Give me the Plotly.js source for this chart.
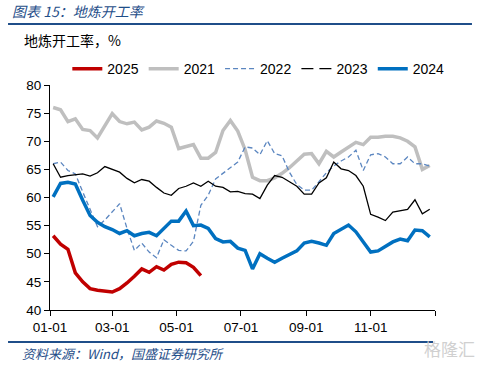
<!DOCTYPE html>
<html>
<head>
<meta charset="utf-8">
<script src="https://cdn.plot.ly/plotly-3.0.1.min.js"></script>
<style>html,body{margin:0;padding:0;background:#fff;}#chart{width:480px;height:366px;}</style>
</head>
<body>
<div id="chart"></div>
<script>
// Weekly observation dates mapped onto a common (non-leap) year
const weeks = [
  "2021-01-04","2021-01-11","2021-01-18","2021-01-25","2021-02-01","2021-02-08","2021-02-15","2021-02-22",
  "2021-03-01","2021-03-08","2021-03-15","2021-03-22","2021-03-29","2021-04-05","2021-04-12","2021-04-19",
  "2021-04-26","2021-05-03","2021-05-10","2021-05-17","2021-05-24","2021-05-31","2021-06-07","2021-06-14",
  "2021-06-21","2021-06-28","2021-07-05","2021-07-12","2021-07-19","2021-07-26","2021-08-02","2021-08-09",
  "2021-08-16","2021-08-23","2021-08-30","2021-09-06","2021-09-13","2021-09-20","2021-09-27","2021-10-04",
  "2021-10-11","2021-10-18","2021-10-25","2021-11-01","2021-11-08","2021-11-15","2021-11-22","2021-11-29",
  "2021-12-06","2021-12-13","2021-12-20","2021-12-27"
];

const y2025 = [53.2,51.7,50.8,46.6,45.0,43.8,43.5,43.3,43.2,43.8,44.8,46.0,47.3,46.7,47.7,47.1,48.1,48.5,48.4,47.6,46.1];

const y2021 = [76.0,75.6,73.5,74.0,72.1,71.9,70.6,72.9,74.9,73.5,73.1,73.4,72.0,72.5,73.6,73.2,
  72.5,68.7,69.0,69.4,67.0,67.0,68.0,71.9,73.7,71.8,68.5,63.6,63.0,63.0,63.5,64.3,
  65.3,66.6,67.7,67.8,66.0,68.2,67.2,68.1,69.0,69.8,69.4,70.7,70.7,70.9,70.9,70.6,
  70.0,69.0,65.0,65.7];

const y2022 = [66.0,66.3,64.8,64.2,61.0,57.8,54.8,56.0,57.4,58.9,54.5,50.6,51.9,50.3,49.3,52.5,
  51.5,50.6,50.5,52.2,58.6,60.4,63.3,64.3,65.3,66.3,69.0,68.8,67.6,70.1,67.8,67.4,
  64.5,62.3,61.3,61.3,62.8,64.4,65.6,66.5,67.2,68.4,64.8,67.6,67.8,67.2,66.0,66.0,
  67.2,66.0,66.0,65.6];

const y2023 = [66.0,63.6,63.9,64.1,64.2,63.8,64.4,65.5,65.0,64.5,63.4,62.6,63.2,62.9,61.8,60.8,
  60.4,61.6,62.0,62.6,62.0,62.9,62.0,61.8,61.0,61.1,60.7,60.6,59.8,62.2,63.9,63.6,
  62.8,62.0,60.6,60.6,62.6,63.5,66.3,65.1,64.8,63.9,62.0,57.0,56.5,55.9,57.4,57.7,
  57.9,59.6,57.1,57.9];

const y2024 = [60.1,62.5,62.7,62.4,59.5,56.8,55.6,54.8,54.3,53.6,54.1,53.2,53.6,53.8,53.2,54.6,
  55.8,55.8,57.6,55.0,55.1,54.5,52.7,52.1,52.2,51.0,50.6,47.3,50.0,49.2,48.5,49.2,
  49.9,50.5,51.9,52.2,51.9,51.5,53.6,54.3,55.1,53.9,52.1,50.3,50.5,51.3,52.1,52.6,
  52.3,54.2,54.1,53.0];

const tickVals = ["2021-01-01","2021-03-01","2021-05-01","2021-07-01","2021-09-01","2021-11-01","2022-01-01"];
const tickText = ["01-01","03-01","05-01","07-01","09-01","11-01",""];

const FONT = "Liberation Sans, Arial, sans-serif";
const CJK = "Noto Sans CJK SC, sans-serif";

const traces = [
  {x: weeks, y: y2021, name: "2021", mode: "lines", legendrank: 2,
   line: {color: "#BFBFBF", width: 3.5}},
  {x: weeks, y: y2022, name: "2022", mode: "lines", legendrank: 3,
   line: {color: "#5B86C0", width: 1.3, dash: "5px,3px"}},
  {x: weeks, y: y2023, name: "2023", mode: "lines", showlegend: false, legendgroup: "g23",
   line: {color: "#000000", width: 1.3}},
  {x: [null], y: [null], name: "2023", mode: "lines", legendrank: 4, legendgroup: "g23",
   line: {color: "#000000", width: 1.3, dash: "12px,6px"}},
  {x: weeks, y: y2024, name: "2024", mode: "lines", legendrank: 5,
   line: {color: "#0070C0", width: 3.5}},
  {x: weeks.slice(0, y2025.length), y: y2025, name: "2025", mode: "lines", legendrank: 1,
   line: {color: "#C00000", width: 3.5}}
];

const layout = {
  width: 480, height: 366,
  margin: {l: 50, r: 45, t: 85, b: 56},
  paper_bgcolor: "#ffffff", plot_bgcolor: "#ffffff",
  font: {family: FONT, size: 13.5, color: "#000000"},
  showlegend: true,
  legend: {orientation: "h", x: 0.045, xanchor: "left", y: 1.071, yanchor: "middle",
           font: {family: FONT, size: 14, color: "#000"}, bgcolor: "rgba(0,0,0,0)"},
  xaxis: {type: "date", range: ["2021-01-01", "2022-01-01"], tickmode: "array",
          tickvals: tickVals, ticktext: tickText, showgrid: false, zeroline: false,
          showline: true, linecolor: "#000", linewidth: 1, ticks: "outside", ticklen: 5,
          tickcolor: "#000", tickfont: {family: FONT, size: 13.5, color: "#000"}},
  yaxis: {range: [40, 80], dtick: 5, tick0: 40, showgrid: false, zeroline: false,
          showline: true, linecolor: "#000", linewidth: 1, ticks: "outside", ticklen: 5,
          tickcolor: "#000", tickfont: {family: FONT, size: 13.5, color: "#000"}},
  shapes: [
    {type: "line", xref: "paper", yref: "paper", x0: -0.109, x1: 1.096, y0: 1.271, y1: 1.271,
     line: {color: "#1F4E89", width: 2}},
    {type: "line", xref: "paper", yref: "paper", x0: -0.109, x1: 0.995, y0: -0.142, y1: -0.142,
     line: {color: "#1F4E89", width: 2}}
  ],
  annotations: [
    {text: "<i>图表 15：地炼开工率</i>", xref: "paper", yref: "paper", x: -0.104, y: 1.33,
     xanchor: "left", yanchor: "middle", showarrow: false,
     font: {family: CJK, size: 14, color: "#1F4E89"}},
    {text: "地炼开工率，%", xref: "paper", yref: "paper", x: -0.073, y: 1.2,
     xanchor: "left", yanchor: "middle", showarrow: false,
     font: {family: CJK, size: 14, color: "#000"}},
    {text: "<i>资料来源：Wind，国盛证券研究所</i>", xref: "paper", yref: "paper", x: -0.078, y: -0.195,
     xanchor: "left", yanchor: "middle", showarrow: false,
     font: {family: CJK, size: 13, color: "#1F4E89"}},
    {text: "格隆汇", xref: "paper", yref: "paper", x: 1.11, y: -0.17,
     xanchor: "right", yanchor: "middle", showarrow: false,
     font: {family: CJK, size: 17, color: "#D0D0D0"}}
  ]
};

Plotly.newPlot("chart", traces, layout, {displayModeBar: false, staticPlot: true});
</script>
</body>
</html>
